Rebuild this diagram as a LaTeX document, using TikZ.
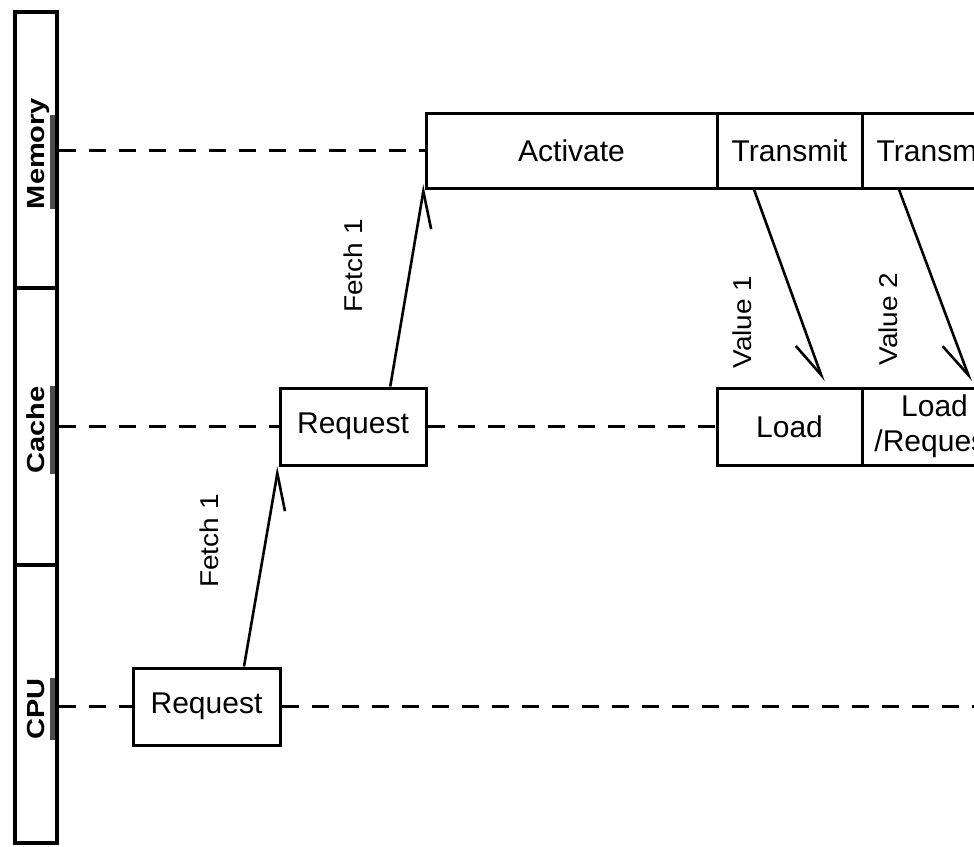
\documentclass[tikz,border=0pt]{standalone}
\usepackage{fontspec}
\setmainfont{Liberation Sans}
\usetikzlibrary{arrows.meta,calc}
\tikzset{
  box/.style={draw, line width=3pt, inner sep=0pt, font=\fontsize{30}{35}\selectfont, align=center},
  lanecell/.style={draw, line width=3.5pt, inner sep=0pt, minimum width=42pt},
  lanelab/.style={inner sep=0pt, rotate=90, anchor=base, font=\fontsize{29}{32}\selectfont\bfseries},
  vlab/.style={inner sep=0pt, rotate=90, font=\fontsize{28}{32}\selectfont},
  ubar/.style={draw=black!70, line width=4.5pt},
  dashline/.style={line width=3.5pt, dash pattern=on 17pt off 13pt},
  arr/.style={line width=2.6pt, -{Straight Barb[harpoon,swap,length=36pt,width=28pt,line width=2.6pt]}}
}
\begin{document}
\begin{tikzpicture}[x=1pt,y=-1pt]
\path[use as bounding box] (0,0) rectangle (974,846);
\fill[white] (0,0) rectangle (974,846);
\clip (0,0) rectangle (974,846);

% lane bar
\node[lanecell, minimum height=276pt] (memcell) at (36,150) {};
\node[lanecell, minimum height=277pt] (cachecell) at (36,426.5) {};
\node[lanecell, minimum height=278pt] (cpucell) at (36,704) {};

\node[lanelab] (memlab) at (44,153.5) {\scalebox{1}[0.85]{Memory}};
\node[lanelab] (cachelab) at (44,430) {\scalebox{1}[0.85]{Cache}};
\node[lanelab] (cpulab) at (44,709) {\scalebox{1}[0.85]{CPU}};
\draw[ubar] ([xshift=8.5pt]memlab.base west) -- ([xshift=8.5pt,yshift=-17pt]memlab.base east);
\draw[ubar] ([xshift=8.5pt]cachelab.base west) -- ([xshift=8.5pt]cachelab.base east);
\draw[ubar] ([xshift=8.5pt]cpulab.base west) -- ([xshift=8.5pt]cpulab.base east);

% boxes
\node[box, minimum width=147pt, minimum height=77pt] (reqcpu) at (206.5,706.5) {Request};
\node[box, minimum width=146pt, minimum height=77pt] (reqcache) at (353,426.5) {Request};
\node[box, minimum width=291pt, minimum height=75pt] (activate) at (571.5,150.5) {Activate};
\node[box, minimum width=145pt, minimum height=75pt] (trans1) at (789.5,150.5) {Transmit};
\node[box, minimum width=145pt, minimum height=75pt] (trans2) at (934.5,150.5) {Transmit};
\node[box, minimum width=145pt, minimum height=77pt] (load1) at (789.5,426.5) {Load};
\node[box, minimum width=145pt, minimum height=77pt] (load2) at (934.5,426.5) {Load\\/Request};

% dashed lifelines
\coordinate (cpuend) at (974,706.5);
\draw[dashline] (memcell.east |- activate.west) -- (activate.west);
\draw[dashline] (cachecell.east) -- (reqcache.west);
\draw[dashline] (reqcache.east) -- (load1.west);
\draw[dashline] (cpucell.east |- reqcpu.west) -- (reqcpu.west);
\draw[dashline] (reqcpu.east) -- (cpuend);

% arrows
\draw[arr] ($(reqcpu.north west)!0.75!(reqcpu.north east)$) -- (reqcache.south west);
\draw[arr] ($(reqcache.north west)!0.75!(reqcache.north east)$) -- ([yshift=5pt]activate.south west);
\draw[arr] ($(trans1.south west)!0.26!(trans1.south east)$) -- ([yshift=5pt]$(load1.north west)!0.73!(load1.north east)$);
\draw[arr] ($(trans2.south west)!0.26!(trans2.south east)$) -- ([yshift=5pt]$(load2.north west)!0.745!(load2.north east)$);

% labels
\node[vlab] (f1) at (209,541) {\scalebox{1}[0.92]{Fetch 1}};
\node[vlab] (f2) at (353,266) {\scalebox{1}[0.92]{Fetch 1}};
\node[vlab] (v1) at (742,322) {\scalebox{1}[0.92]{Value 1}};
\node[vlab] (v2) at (888,319) {\scalebox{1}[0.92]{Value 2}};
\end{tikzpicture}
\end{document}
